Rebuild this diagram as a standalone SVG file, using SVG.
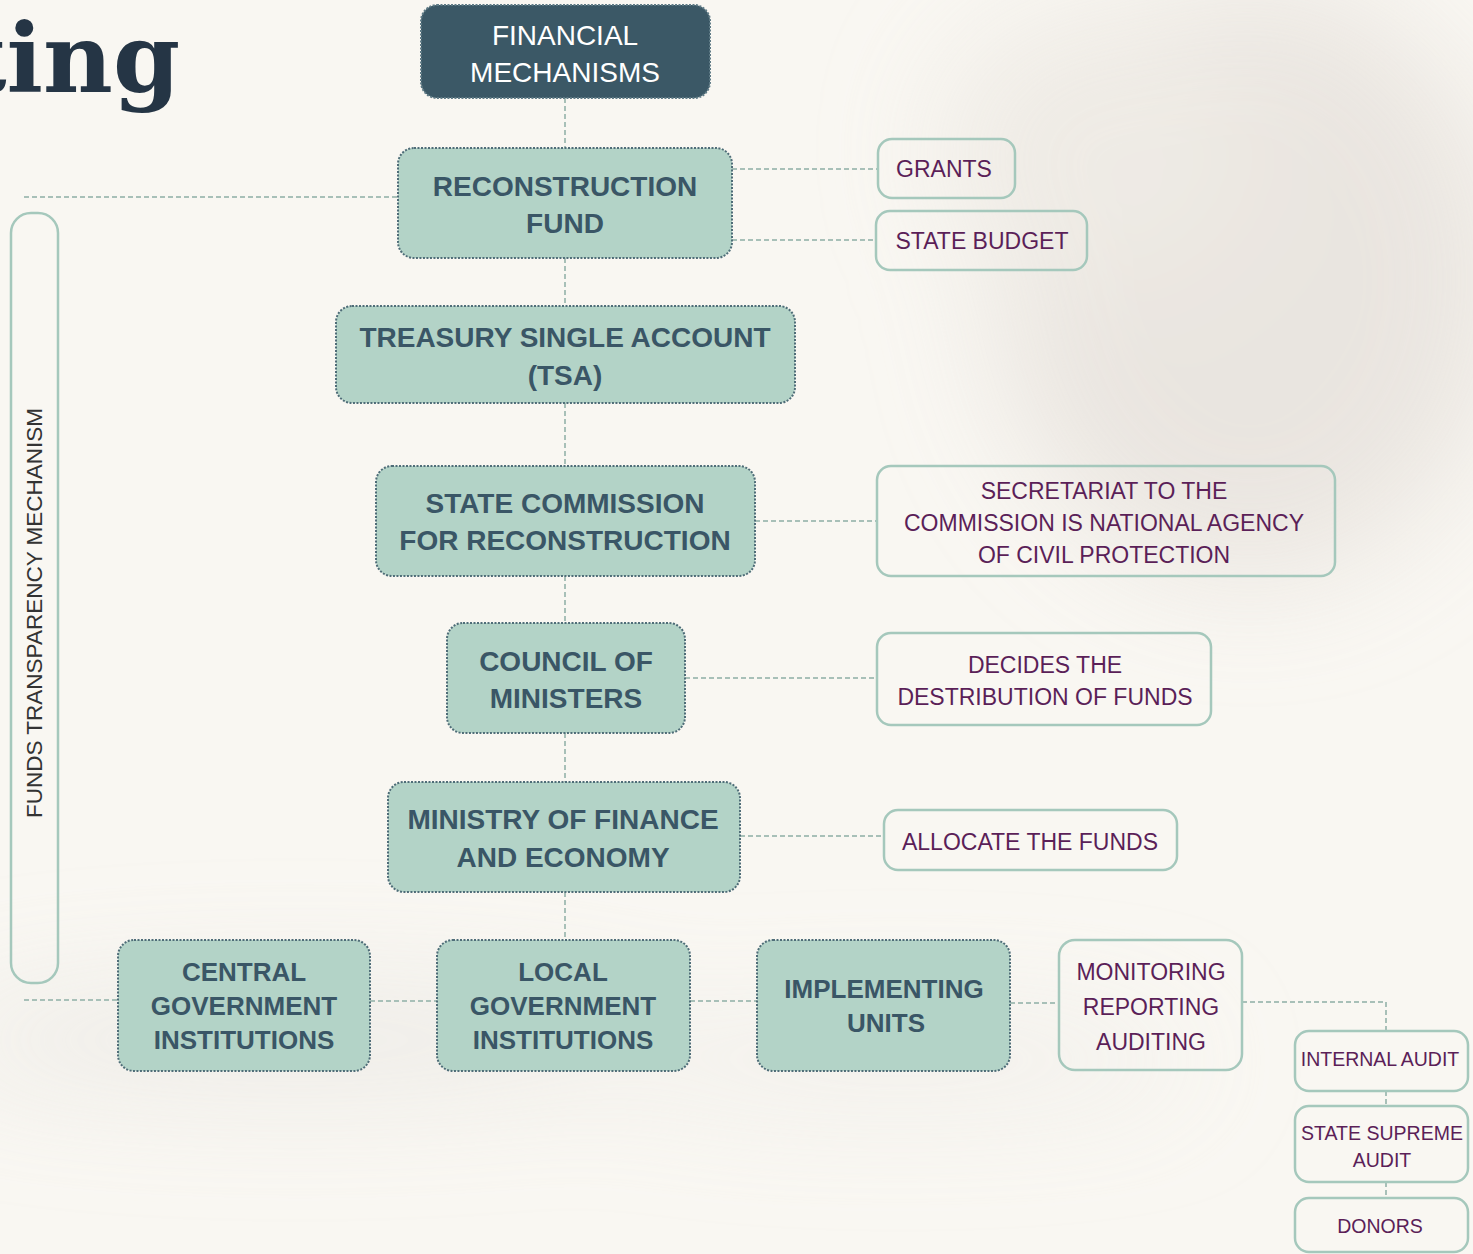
<svg xmlns="http://www.w3.org/2000/svg" width="1473" height="1254" viewBox="0 0 1473 1254">
  <defs>
    <filter id="blur" x="-50%" y="-50%" width="200%" height="200%">
      <feGaussianBlur stdDeviation="60"/>
    </filter>
    <style>
      .node rect { fill: #b3d3c7; stroke: #4f6d78; stroke-width: 2; stroke-dasharray: 2 1.5; }
      .node text { font-family: "Liberation Sans", Arial, sans-serif; font-weight: bold; fill: #3a5666; text-anchor: middle; font-size: 28px; }
      .node.small text { font-size: 26px; }
      .top rect { fill: #3b5866; stroke: #5f7b86; stroke-width: 2; stroke-dasharray: 2 1.5; }
      .top text { font-family: "Liberation Sans", Arial, sans-serif; fill: #ffffff; text-anchor: middle; font-size: 28px; }
      .note rect { fill: none; stroke: #a5c8bc; stroke-width: 2.5; }
      .note text { font-family: "Liberation Sans", Arial, sans-serif; fill: #5b1f58; text-anchor: middle; font-size: 23px; }
      .note.tiny text { font-size: 19.5px; }
      .conn line, .conn polyline { stroke: #a8c0b8; stroke-width: 2; stroke-dasharray: 5 3; fill: none; }
    </style>
  </defs>

  <!-- background -->
  <rect x="0" y="0" width="1473" height="1254" fill="#f9f7f2"/>
  <g filter="url(#blur)" opacity="0.8">
    <ellipse cx="1250" cy="280" rx="260" ry="300" fill="#e6e1dc"/>
    <ellipse cx="1100" cy="150" rx="160" ry="140" fill="#ece8e2"/>
    <ellipse cx="300" cy="1040" rx="380" ry="50" fill="#e9e7e3"/>
    <ellipse cx="900" cy="1060" rx="300" ry="40" fill="#eeece8"/>
  </g>

  <!-- title fragment -->
  <text x="180" y="92" text-anchor="end" font-family="DejaVu Serif, serif" font-weight="bold" font-size="96" fill="#253545">ting</text>

  <!-- connectors -->
  <g id="connectors" class="conn">
    <line x1="565" y1="98" x2="565" y2="148"/>
    <line x1="565" y1="258" x2="565" y2="306"/>
    <line x1="565" y1="403" x2="565" y2="466"/>
    <line x1="565" y1="576" x2="565" y2="623"/>
    <line x1="565" y1="733" x2="565" y2="782"/>
    <line x1="565" y1="892" x2="565" y2="940"/>
    <line x1="24" y1="197" x2="398" y2="197"/>
    <line x1="24" y1="1000" x2="118" y2="1000"/>
    <line x1="732" y1="169" x2="878" y2="169"/>
    <line x1="732" y1="240" x2="876" y2="240"/>
    <line x1="755" y1="521" x2="877" y2="521"/>
    <line x1="685" y1="678" x2="877" y2="678"/>
    <line x1="740" y1="836" x2="884" y2="836"/>
    <line x1="370" y1="1001" x2="437" y2="1001"/>
    <line x1="690" y1="1001" x2="757" y2="1001"/>
    <line x1="1010" y1="1003" x2="1059" y2="1003"/>
    <polyline points="1242,1002 1386,1002 1386,1031"/>
    <line x1="1386" y1="1091" x2="1386" y2="1106"/>
    <line x1="1386" y1="1182" x2="1386" y2="1198"/>
  </g>

  <!-- vertical pill -->
  <g id="funds-transparency">
    <rect x="11" y="213" width="47" height="770" rx="20" fill="none" stroke="#a5c8bc" stroke-width="2.5"/>
    <text transform="translate(42,613) rotate(-90)" text-anchor="middle" font-family="Liberation Sans, Arial, sans-serif" font-size="22.5" fill="#333333">FUNDS TRANSPARENCY MECHANISM</text>
  </g>

  <!-- main nodes -->
  <g id="financial-mechanisms" class="top">
    <rect x="421" y="5" width="289" height="93" rx="16"/>
    <text x="565" y="45">FINANCIAL</text>
    <text x="565" y="82">MECHANISMS</text>
  </g>
  <g id="reconstruction-fund" class="node">
    <rect x="398" y="148" width="334" height="110" rx="16"/>
    <text x="565" y="196">RECONSTRUCTION</text>
    <text x="565" y="233">FUND</text>
  </g>
  <g id="tsa" class="node">
    <rect x="336" y="306" width="459" height="97" rx="16"/>
    <text x="565" y="347">TREASURY SINGLE ACCOUNT</text>
    <text x="565" y="385">(TSA)</text>
  </g>
  <g id="state-commission" class="node">
    <rect x="376" y="466" width="379" height="110" rx="16"/>
    <text x="565" y="513">STATE COMMISSION</text>
    <text x="565" y="550">FOR RECONSTRUCTION</text>
  </g>
  <g id="council-of-ministers" class="node">
    <rect x="447" y="623" width="238" height="110" rx="16"/>
    <text x="566" y="671">COUNCIL OF</text>
    <text x="566" y="708">MINISTERS</text>
  </g>
  <g id="ministry-of-finance" class="node">
    <rect x="388" y="782" width="352" height="110" rx="16"/>
    <text x="563" y="829">MINISTRY OF FINANCE</text>
    <text x="563" y="867">AND ECONOMY</text>
  </g>
  <g id="central-government" class="node small">
    <rect x="118" y="940" width="252" height="131" rx="16"/>
    <text x="244" y="981">CENTRAL</text>
    <text x="244" y="1015">GOVERNMENT</text>
    <text x="244" y="1049">INSTITUTIONS</text>
  </g>
  <g id="local-government" class="node small">
    <rect x="437" y="940" width="253" height="131" rx="16"/>
    <text x="563" y="981">LOCAL</text>
    <text x="563" y="1015">GOVERNMENT</text>
    <text x="563" y="1049">INSTITUTIONS</text>
  </g>
  <g id="implementing-units" class="node small">
    <rect x="757" y="940" width="253" height="131" rx="16"/>
    <text x="884" y="998">IMPLEMENTING</text>
    <text x="886" y="1032">UNITS</text>
  </g>

  <!-- side notes -->
  <g id="grants" class="note">
    <rect x="878" y="139" width="137" height="59" rx="14"/>
    <text x="944" y="177">GRANTS</text>
  </g>
  <g id="state-budget" class="note">
    <rect x="876" y="211" width="211" height="59" rx="14"/>
    <text x="982" y="249">STATE BUDGET</text>
  </g>
  <g id="secretariat" class="note">
    <rect x="877" y="466" width="458" height="110" rx="14"/>
    <text x="1104" y="499">SECRETARIAT TO THE</text>
    <text x="1104" y="531">COMMISSION IS NATIONAL AGENCY</text>
    <text x="1104" y="563">OF CIVIL PROTECTION</text>
  </g>
  <g id="decides" class="note">
    <rect x="877" y="633" width="334" height="92" rx="14"/>
    <text x="1045" y="673">DECIDES THE</text>
    <text x="1045" y="705">DESTRIBUTION OF FUNDS</text>
  </g>
  <g id="allocate" class="note">
    <rect x="884" y="810" width="293" height="60" rx="14"/>
    <text x="1030" y="850">ALLOCATE THE FUNDS</text>
  </g>
  <g id="monitoring" class="note">
    <rect x="1059" y="940" width="183" height="130" rx="16"/>
    <text x="1151" y="980" font-size="24">MONITORING</text>
    <text x="1151" y="1015" font-size="24">REPORTING</text>
    <text x="1151" y="1050" font-size="24">AUDITING</text>
  </g>
  <g id="internal-audit" class="note tiny">
    <rect x="1295" y="1031" width="173" height="60" rx="14"/>
    <text x="1380" y="1066">INTERNAL AUDIT</text>
  </g>
  <g id="state-supreme-audit" class="note tiny">
    <rect x="1295" y="1106" width="173" height="76" rx="14"/>
    <text x="1382" y="1140">STATE SUPREME</text>
    <text x="1382" y="1167">AUDIT</text>
  </g>
  <g id="donors" class="note tiny">
    <rect x="1295" y="1198" width="173" height="54" rx="14"/>
    <text x="1380" y="1233">DONORS</text>
  </g>
</svg>
